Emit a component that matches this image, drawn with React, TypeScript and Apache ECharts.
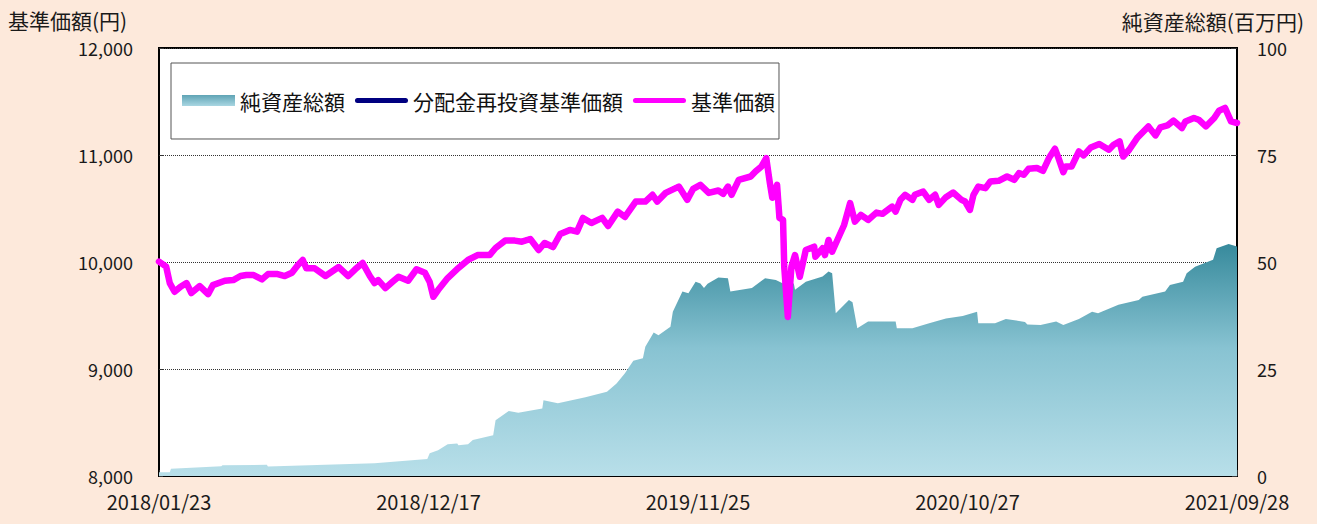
import React, { useEffect, useRef } from "react";
import * as echarts from "echarts";

// X-axis tick labels (business-day index 0..900, labels every 225 days)
const dateLabels = ["2018/01/23", "2018/12/17", "2019/11/25", "2020/10/27", "2021/09/28"];
const dayMax = 900;
const dayStep = 225;

// 基準価額 (円)
const priceDays = [
  0, 6, 9, 13, 18, 23, 27, 34, 41, 45, 55, 62, 68, 73, 79, 86, 91, 99, 105, 111,
  116, 120, 123, 130, 139, 150, 158, 164, 170, 176, 180, 183, 189, 195, 200, 208, 215, 222, 226, 229,
  233, 241, 250, 258, 266, 276, 281, 289, 297, 303, 310, 317, 322, 329, 335, 343, 349, 354, 361, 370,
  375, 383, 389, 398, 406, 412, 416, 423, 434, 441, 446, 452, 459, 467, 471, 475, 478, 484, 494, 498,
  503, 507, 510, 512, 516, 518, 521, 522, 525, 528, 531, 535, 540, 547, 548, 554, 556, 559, 562, 567,
  572, 577, 581, 586, 592, 599, 604, 612, 615, 619, 623, 629, 631, 638, 643, 648, 651, 657, 663, 670,
  673, 677, 680, 684, 690, 694, 701, 708, 714, 718, 722, 726, 733, 738, 743, 748, 751, 755, 757, 762,
  768, 772, 778, 785, 793, 797, 802, 805, 810, 817, 826, 832, 836, 842, 847, 854, 857, 864, 868, 874,
  881, 885, 890, 895, 900,
];
const priceValues = [
  10003, 9956, 9803, 9722, 9769, 9803, 9710, 9775, 9700, 9784, 9825, 9831, 9869, 9878, 9878, 9838, 9887, 9887, 9869, 9900,
  9972, 10019, 9941, 9941, 9869, 9953, 9869, 9934, 9991, 9869, 9803, 9831, 9756, 9815, 9862, 9825, 9932, 9900, 9813, 9675,
  9738, 9850, 9944, 10019, 10065, 10065, 10131, 10200, 10200, 10190, 10215, 10112, 10178, 10140, 10262, 10300, 10284, 10412, 10365, 10412,
  10337, 10471, 10421, 10565, 10565, 10628, 10565, 10646, 10705, 10581, 10684, 10721, 10646, 10668, 10637, 10705, 10628, 10768, 10799, 10846,
  10893, 10971, 10737, 10600, 10721, 10412, 10393, 9956, 9487, 9956, 10065, 9862, 10112, 10143, 10050, 10128, 10065, 10206, 10096, 10222,
  10346, 10550, 10377, 10440, 10393, 10462, 10450, 10518, 10471, 10581, 10628, 10581, 10628, 10658, 10581, 10628, 10534, 10606, 10649, 10581,
  10565, 10487, 10628, 10705, 10690, 10752, 10759, 10799, 10768, 10831, 10815, 10871, 10878, 10852, 10971, 11058, 10971, 10840, 10893, 10893,
  11033, 10996, 11071, 11103, 11049, 11096, 11127, 10986, 11049, 11164, 11267, 11183, 11258, 11277, 11321, 11252, 11314, 11346, 11330, 11267,
  11346, 11414, 11440, 11314, 11299,
];

// 純資産総額 (百万円)
const navDays = [
  0, 9, 10, 52, 53, 90, 91, 180, 224, 226, 233, 241, 249, 250, 258, 262, 279, 281, 292, 300,
  320, 321, 333, 356, 374, 382, 389, 396, 404, 406, 413, 417, 427, 429, 437, 442, 448, 452, 455, 458,
  467, 475, 477, 495, 506, 515, 521, 530, 531, 540, 554, 559, 562, 565, 576, 579, 583, 592, 615, 616,
  629, 643, 657, 671, 683, 684, 698, 707, 723, 725, 736, 749, 755, 768, 779, 784, 801, 818, 821, 840,
  844, 855, 858, 865, 880, 883, 893, 900,
];
const navValues = [
  0.9, 0.9, 1.7, 2.3, 2.5, 2.6, 2.2, 3.0, 4.0, 5.3, 6.0, 7.4, 7.6, 7.2, 7.4, 8.4, 9.5, 13.0, 15.2, 14.8,
  15.8, 17.7, 17.0, 18.4, 19.7, 21.6, 24.0, 26.9, 27.5, 30.2, 33.5, 32.9, 34.9, 38.4, 43.1, 42.7, 45.4, 45.0, 43.9, 44.9,
  46.4, 46.2, 43.1, 43.9, 46.2, 45.8, 45.0, 45.0, 43.5, 45.4, 46.6, 47.8, 47.4, 38.0, 41.1, 40.6, 34.5, 36.1, 36.1, 34.5,
  34.5, 35.7, 36.8, 37.4, 38.4, 35.7, 35.7, 36.7, 36.0, 35.4, 35.3, 36.1, 35.3, 36.7, 38.4, 38.0, 40.0, 41.1, 41.9, 43.1,
  44.6, 45.4, 47.4, 48.9, 50.5, 53.2, 54.2, 53.6,
];

const FONT = "'Noto Sans CJK JP', 'Noto Sans', sans-serif";
const BG = "#FDE9DB";
// thick rounded line used as legend icon (aspect kept inside the legend item box)
const LINE_ICON = "path://M2.5,0 L50.5,0 A2.5,2.5 0 0 1 50.5,5 L2.5,5 A2.5,2.5 0 0 1 2.5,0 Z";

export default function App() {
  const ref = useRef<HTMLDivElement>(null);

  useEffect(() => {
    if (!ref.current) return;
    const chart = echarts.init(ref.current, undefined, { renderer: "svg" });

    const priceData = priceDays.map((d, i) => [d, priceValues[i]]);
    const navData = navDays.map((d, i) => [d, navValues[i]]);

    const navGradient = new echarts.graphic.LinearGradient(0, 0, 0, 1, [
      { offset: 0, color: "#378A9C" },
      { offset: 0.45, color: "#88C3D2" },
      { offset: 1, color: "#B8DFE9" },
    ]);
    const legendGradient = new echarts.graphic.LinearGradient(0, 0, 0, 1, [
      { offset: 0, color: "#5FA4B5" },
      { offset: 1, color: "#A9D6E2" },
    ]);

    chart.setOption({
      animation: false,
      backgroundColor: BG,
      textStyle: { fontFamily: FONT },
      grid: {
        left: 159,
        right: 80,
        top: 48,
        bottom: 48,
        show: true,
        backgroundColor: "#FFFFFF",
        borderColor: "#000000",
        borderWidth: 2,
      },
      legend: {
        left: 171,
        top: 63,
        padding: [27, 4, 28, 11],
        itemGap: 10,
        itemWidth: 53,
        itemHeight: 11,
        symbolKeepAspect: true,
        backgroundColor: "#FFFFFF",
        borderColor: "#555555",
        borderWidth: 1,
        borderRadius: 0,
        selectedMode: false,
        textStyle: { fontSize: 21, color: "#111111", fontFamily: FONT },
        data: [
          { name: "純資産総額", icon: "rect", itemStyle: { color: legendGradient } },
          { name: "分配金再投資基準価額", icon: LINE_ICON, itemStyle: { color: "#000080" } },
          { name: "基準価額", icon: LINE_ICON, itemStyle: { color: "#FF00FF" } },
        ],
      },
      xAxis: {
        type: "value",
        min: 0,
        max: dayMax,
        interval: dayStep,
        axisLine: { show: true, lineStyle: { color: "#000000", width: 2 } },
        axisTick: { show: true, inside: true, length: 6, lineStyle: { color: "#333333", width: 1 } },
        splitLine: { show: false },
        axisLabel: {
          margin: 15,
          fontSize: 20,
          color: "#1a1a1a",
          fontFamily: FONT,
          showMinLabel: true,
          showMaxLabel: true,
          formatter: (v: number) => dateLabels[Math.round(v / dayStep)] ?? "",
        },
      },
      yAxis: [
        {
          type: "value",
          min: 8000,
          max: 12000,
          interval: 1000,
          axisLine: { show: true, lineStyle: { color: "#000000", width: 2 } },
          axisTick: { show: true, inside: true, length: 4, lineStyle: { color: "#333333" } },
          splitLine: { show: true, lineStyle: { color: "#333333", type: "dotted", width: 1 } },
          axisLabel: {
            margin: 26,
            fontSize: 18,
            color: "#1a1a1a",
            fontFamily: FONT,
            formatter: (v: number) => v.toLocaleString("en-US"),
          },
        },
        {
          type: "value",
          min: 0,
          max: 100,
          interval: 25,
          position: "right",
          axisLine: { show: true, lineStyle: { color: "#000000", width: 2 } },
          axisTick: { show: true, inside: true, length: 5, lineStyle: { color: "#333333" } },
          splitLine: { show: false },
          axisLabel: { margin: 20, fontSize: 18, color: "#1a1a1a", fontFamily: FONT },
        },
      ],
      graphic: [
        {
          type: "text",
          left: 8,
          top: 9,
          style: { text: "基準価額(円)", fontSize: 21, fill: "#1a1a1a", fontFamily: FONT },
        },
        {
          type: "text",
          right: 13,
          top: 10,
          style: { text: "純資産総額(百万円)", fontSize: 21, fill: "#1a1a1a", fontFamily: FONT },
        },
      ],
      series: [
        {
          name: "純資産総額",
          type: "line",
          yAxisIndex: 1,
          data: navData,
          symbol: "none",
          lineStyle: { width: 0, color: "#5FA4B5" },
          itemStyle: { color: "#5FA4B5" },
          areaStyle: { color: navGradient, opacity: 1 },
          z: 1,
        },
        {
          name: "分配金再投資基準価額",
          type: "line",
          yAxisIndex: 0,
          data: priceData,
          symbol: "none",
          lineStyle: { width: 5, color: "#000080", cap: "round", join: "round" },
          itemStyle: { color: "#000080" },
          z: 2,
        },
        {
          name: "基準価額",
          type: "line",
          yAxisIndex: 0,
          data: priceData,
          symbol: "none",
          lineStyle: { width: 6.5, color: "#FF00FF", cap: "round", join: "round" },
          itemStyle: { color: "#FF00FF" },
          z: 3,
        },
      ],
    });

    return () => chart.dispose();
  }, []);

  return (
    <div
      ref={ref}
      style={{ position: "fixed", left: 0, top: 0, width: 1317, height: 524, background: BG }}
    />
  );
}
